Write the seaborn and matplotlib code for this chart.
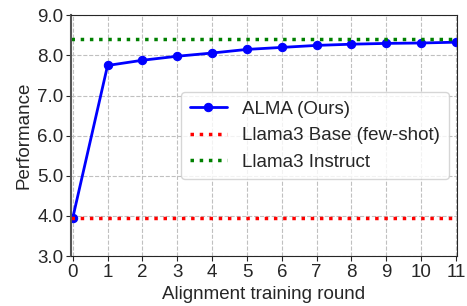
import matplotlib
matplotlib.use("Agg")
import matplotlib.pyplot as plt
import seaborn as sns
import pandas as pd

rounds = [0, 1, 2, 3, 4, 5, 6, 7, 8, 9, 10, 11]
alma = [3.95, 7.75, 7.88, 7.98, 8.06, 8.15, 8.20, 8.25, 8.28, 8.30, 8.31, 8.33]
base_score = 3.95
instruct_score = 8.40
yticks = [3.0, 4.0, 5.0, 6.0, 7.0, 8.0, 9.0]

sns.set_style("ticks")
plt.rcParams['font.family'] = ['Liberation Sans', 'DejaVu Sans']

fig, ax = plt.subplots(figsize=(4.67, 3.06), dpi=100)
df = pd.DataFrame({"round": rounds, "score": alma})
sns.lineplot(data=df, x="round", y="score", ax=ax, color="blue", marker="o",
             markersize=6, linewidth=2, markeredgecolor="blue", label="ALMA (Ours)")
ax.axhline(base_score, color="red", linestyle=":", linewidth=2.5, label="Llama3 Base (few-shot)")
ax.axhline(instruct_score, color="green", linestyle=":", linewidth=2.5, label="Llama3 Instruct")

ax.set_xlim(-0.05, 11.02)
ax.set_ylim(3.0, 9.0)
ax.set_xticks(rounds)
ax.set_yticks(yticks)
ax.set_yticklabels([f"{v:.1f}" for v in yticks])
ax.tick_params(labelsize=13.5, pad=2)
ax.grid(True, linestyle="--", color="#c0c0c0", linewidth=0.8)
ax.set_xlabel("Alignment training round", fontsize=13.5, labelpad=4)
ax.set_ylabel("Performance", fontsize=13.5, labelpad=3)
ax.spines["left"].set_color("#555555")
ax.spines["left"].set_linewidth(1.5)
ax.legend(loc="center right", bbox_to_anchor=(1.003, 0.50), fontsize=13.5,
          handlelength=2, frameon=True, borderpad=0.45, labelspacing=0.5)
fig.subplots_adjust(left=0.152, right=0.978, top=0.95, bottom=0.163)
fig.savefig("out.png", dpi=100)
